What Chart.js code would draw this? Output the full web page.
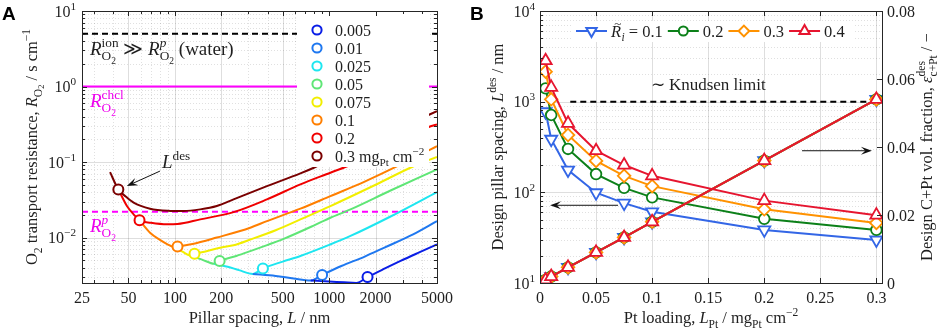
<!DOCTYPE html>
<html>
<head>
<meta charset="utf-8">
<script src="https://cdn.jsdelivr.net/npm/chart.js@4.4.0/dist/chart.umd.min.js"></script>
<style>
body { margin: 0; background: #fff; }
#wrap { position: relative; width: 941px; height: 329px; }
canvas { position: absolute; top: 0; }
#chartA { left: 0; }
#chartB { left: 470px; }
</style>
</head>
<body>
<div id="wrap">
  <canvas id="chartA" width="470" height="329"></canvas>
  <canvas id="chartB" width="471" height="329"></canvas>
</div>
<script>
// ---------- panel A: O2 resistance vs pillar spacing ----------
const loadings = ['0.005', '0.01', '0.025', '0.05', '0.075', '0.1', '0.2', '0.3'];
const curveColors = ['#0a1ee6', '#1f78f0', '#1ee6f0', '#5fe676', '#f2ee00', '#ff7f00', '#f00000', '#7a0000'];

const L_005 = [760, 1000, 1250, 1500, 1773, 2300, 2903, 3800, 5000];
const R_005 = [0.0027, 0.00262, 0.00255, 0.0025, 0.0030, 0.0039, 0.0049, 0.0063, 0.0081];
const L_01 = [320, 450, 589, 760, 900, 1200, 1700, 2262, 3500, 5000];
const R_01 = [0.0033, 0.0031, 0.00286, 0.0027, 0.0032, 0.0042, 0.0056, 0.0073, 0.0110, 0.0165];
const L_025 = [180, 220, 260, 320, 372, 500, 651, 1000, 1375, 2500, 5000];
const R_025 = [0.0045, 0.0041, 0.0037, 0.0033, 0.0039, 0.0048, 0.0057, 0.0080, 0.0105, 0.019, 0.040];
const L_05 = [125, 150, 180, 195, 250, 308, 400, 507, 800, 1019, 1375, 2500, 5000];
const R_05 = [0.0058, 0.0051, 0.0045, 0.0049, 0.0057, 0.0066, 0.0080, 0.0096, 0.0145, 0.0183, 0.0236, 0.042, 0.080];
const L_075 = [100, 112, 125, 134, 160, 200, 240, 308, 450, 651, 1019, 2000, 3525, 5000];
const R_075 = [0.0074, 0.0065, 0.0058, 0.0061, 0.0066, 0.0074, 0.0079, 0.0094, 0.0125, 0.0174, 0.0261, 0.050, 0.088, 0.117];
const L_1 = [59, 69, 80, 89, 100, 104, 130, 187, 308, 395, 651, 1019, 1700, 2763, 4550, 5000];
const R_1 = [0.0169, 0.0116, 0.0093, 0.0082, 0.0074, 0.0076, 0.0082, 0.0100, 0.0135, 0.0165, 0.0241, 0.0354, 0.055, 0.088, 0.147, 0.162];
const L_2 = [43, 49, 55, 59, 70, 89, 104, 146, 240, 395, 651, 1019, 1309, 2500, 4550, 5000];
const R_2 = [0.0434, 0.026, 0.0195, 0.0169, 0.0157, 0.0150, 0.0151, 0.0174, 0.0217, 0.032, 0.0506, 0.0722, 0.088, 0.165, 0.298, 0.315];
const L_3 = [38, 43, 48, 54, 69, 90, 114, 146, 187, 240, 395, 651, 795, 1500, 2500, 3500, 5000];
const R_3 = [0.0735, 0.0434, 0.035, 0.029, 0.0241, 0.0226, 0.0224, 0.0236, 0.0262, 0.0320, 0.048, 0.0707, 0.084, 0.159, 0.251, 0.341, 0.47];

// design points (circles), same order as loadings
const desL = [1773, 900, 372, 195, 134, 104, 59, 43];
const desR = [0.0030, 0.0032, 0.0039, 0.0049, 0.0061, 0.0076, 0.0169, 0.0434];

const R_ion = 5;
const R_chcl = 1;
const R_p = 0.022;

const xTicksA = [25, 30, 40, 50, 60, 70, 80, 90, 100, 200, 300, 400, 500, 600, 700, 800, 900, 1000, 2000, 3000, 4000, 5000];
const xLabelsA = [25, 50, 100, 200, 500, 1000, 2000, 5000];
const yTicksA = [0.003, 0.004, 0.005, 0.006, 0.007, 0.008, 0.009, 0.01, 0.02, 0.03, 0.04, 0.05, 0.06, 0.07, 0.08, 0.09,
                 0.1, 0.2, 0.3, 0.4, 0.5, 0.6, 0.7, 0.8, 0.9, 1, 2, 3, 4, 5, 6, 7, 8, 9, 10];
const yLabelsA = [0.01, 0.1, 1, 10];
const yExpA = ['−2', '−1', '0', '1'];

// ---------- panel B: design pillar spacing and volume fraction ----------
const ptLoading = [0.005, 0.01, 0.025, 0.05, 0.075, 0.1, 0.2, 0.3];
const Ldes_01 = [774, 385, 176, 99, 76, 61, 38.5, 29.8];
const Ldes_02 = [1403, 713, 301, 159, 112, 88, 51, 38.5];
const Ldes_03 = [2144, 1062, 429, 222, 152, 117, 65, 46];
const Ldes_04 = [2831, 1439, 577, 288, 200, 152, 81, 56];
const epsDes = [0.0009, 0.0019, 0.0046, 0.0090, 0.0134, 0.0180, 0.0360, 0.0540];
const knudsenX = [0.027, 0.3];
const knudsenL = 1000;

const xTicksB = [0, 0.05, 0.1, 0.15, 0.2, 0.25, 0.3];
const xLabelsB = ['0', '0.05', '0.1', '0.15', '0.2', '0.25', '0.3'];
const yTicksB = [10, 20, 30, 40, 50, 60, 70, 80, 90, 100, 200, 300, 400, 500, 600, 700, 800, 900,
                 1000, 2000, 3000, 4000, 5000, 6000, 7000, 8000, 9000, 10000];
const yLabelsB = [10, 100, 1000, 10000];
const yExpB = ['1', '2', '3', '4'];
const y2TicksB = [0, 0.02, 0.04, 0.06, 0.08];
const y2LabelsB = ['0', '0.02', '0.04', '0.06', '0.08'];

const SERIF = '"Liberation Serif", "Times New Roman", serif';
const INK = '#1f1f1f';

// rich text: tokens [text, kind]; mark/back/end stack sub under sup
const ST = {
  n: [1, 0, ''], i: [1, 0, 'italic '],
  p: [0.7, -0.42, ''], pi: [0.7, -0.42, 'italic '],
  b: [0.7, 0.28, ''], bi: [0.7, 0.28, 'italic '],
  bb: [0.5, 0.45, ''], tl: [0.8, -0.52, '']
};
function rich(ctx, toks, x, y, size, align, color) {
  let cx = 0, gs = 0, gm = 0;
  const items = [];
  for (const [t, k] of toks) {
    if (k === 'mark') { gs = cx; gm = cx; continue; }
    if (k === 'back') { gm = Math.max(gm, cx); cx = gs; continue; }
    if (k === 'end') { cx = Math.max(gm, cx); continue; }
    const s = ST[k];
    const font = s[2] + (size * s[0]).toFixed(1) + 'px ' + SERIF;
    ctx.font = font;
    const w = ctx.measureText(t).width;
    items.push({ t, font, x: cx, dy: s[1] * size });
    cx += w;
  }
  const off = align === 'center' ? -cx / 2 : align === 'right' ? -cx : 0;
  ctx.fillStyle = color || INK;
  ctx.textAlign = 'left';
  ctx.textBaseline = 'alphabetic';
  for (const it of items) {
    ctx.font = it.font;
    ctx.fillText(it.t, x + off + it.x, y + it.dy);
  }
  return cx;
}
function richV(ctx, toks, x, y, size, color) {
  ctx.save();
  ctx.translate(x, y);
  ctx.rotate(-Math.PI / 2);
  rich(ctx, toks, 0, 0, size, 'center', color);
  ctx.restore();
}

function gridV(ctx, a, px, major) {
  ctx.strokeStyle = major ? 'rgba(0,0,0,0.13)' : 'rgba(0,0,0,0.12)';
  ctx.setLineDash(major ? [] : [1, 2]);
  ctx.lineWidth = 1;
  const p = Math.round(px) + 0.5;
  ctx.beginPath(); ctx.moveTo(p, a.top); ctx.lineTo(p, a.bottom); ctx.stroke();
  ctx.setLineDash([]);
}
function gridH(ctx, a, py, major) {
  ctx.strokeStyle = major ? 'rgba(0,0,0,0.13)' : 'rgba(0,0,0,0.12)';
  ctx.setLineDash(major ? [] : [1, 2]);
  ctx.lineWidth = 1;
  const p = Math.round(py) + 0.5;
  ctx.beginPath(); ctx.moveTo(a.left, p); ctx.lineTo(a.right, p); ctx.stroke();
  ctx.setLineDash([]);
}
function box(ctx, a) {
  ctx.strokeStyle = '#262626';
  ctx.lineWidth = 1;
  ctx.strokeRect(Math.round(a.left) + 0.5, Math.round(a.top) + 0.5, Math.round(a.right - a.left), Math.round(a.bottom - a.top));
}
function tickX(ctx, a, px, len) {
  ctx.strokeStyle = '#262626'; ctx.lineWidth = 1;
  const p = Math.round(px) + 0.5;
  ctx.beginPath();
  ctx.moveTo(p, a.bottom); ctx.lineTo(p, a.bottom - len);
  ctx.moveTo(p, a.top); ctx.lineTo(p, a.top + len);
  ctx.stroke();
}
function tickY(ctx, a, py, len, left, right) {
  ctx.strokeStyle = '#262626'; ctx.lineWidth = 1;
  const p = Math.round(py) + 0.5;
  ctx.beginPath();
  if (left) { ctx.moveTo(a.left, p); ctx.lineTo(a.left + len, p); }
  if (right) { ctx.moveTo(a.right, p); ctx.lineTo(a.right - len, p); }
  ctx.stroke();
}
function arrow(ctx, x1, y1, x2, y2) {
  const a = Math.atan2(y2 - y1, x2 - x1), hl = 11, hw = 4;
  const c = Math.cos(a), s = Math.sin(a);
  ctx.strokeStyle = '#111'; ctx.fillStyle = '#111'; ctx.lineWidth = 1;
  ctx.beginPath(); ctx.moveTo(x1, y1); ctx.lineTo(x2 - hl * 0.6 * c, y2 - hl * 0.6 * s); ctx.stroke();
  ctx.beginPath();
  ctx.moveTo(x2, y2);
  ctx.lineTo(x2 - hl * c + hw * s, y2 - hl * s - hw * c);
  ctx.lineTo(x2 - hl * 0.6 * c, y2 - hl * 0.6 * s);
  ctx.lineTo(x2 - hl * c - hw * s, y2 - hl * s + hw * c);
  ctx.closePath(); ctx.fill();
}
function marker(ctx, kind, x, y, r, color) {
  ctx.beginPath();
  if (kind === 'circle') ctx.arc(x, y, r, 0, 2 * Math.PI);
  else if (kind === 'tri' || kind === 'triDown') {
    const s = kind === 'tri' ? -1 : 1;
    ctx.moveTo(x, y + s * r);
    ctx.lineTo(x + r * 0.866, y - s * r * 0.5);
    ctx.lineTo(x - r * 0.866, y - s * r * 0.5);
    ctx.closePath();
  } else {
    ctx.moveTo(x, y - r); ctx.lineTo(x + r, y); ctx.lineTo(x, y + r); ctx.lineTo(x - r, y); ctx.closePath();
  }
  ctx.fillStyle = '#fff'; ctx.fill();
  ctx.strokeStyle = color; ctx.lineWidth = 2; ctx.stroke();
}
function pts(xs, ys) { return xs.map((v, i) => ({ x: v, y: ys[i] })); }

// ---------- chart A ----------
const curvesA = [[L_005, R_005], [L_01, R_01], [L_025, R_025], [L_05, R_05], [L_075, R_075], [L_1, R_1], [L_2, R_2], [L_3, R_3]];
const dsA = [];
dsA.push({
  data: pts(desL, desR), showLine: false, order: 0,
  pointRadius: 5, pointHoverRadius: 5, pointBorderWidth: 2,
  pointBackgroundColor: '#fff', pointBorderColor: curveColors
});
curvesA.forEach((c, i) => dsA.push({
  data: pts(c[0], c[1]), showLine: true, order: 1 + i,
  borderColor: curveColors[i], borderWidth: 2, pointRadius: 0, cubicInterpolationMode: 'monotone'
}));
dsA.push({ data: pts([25, 5000], [R_ion, R_ion]), showLine: true, order: 20, borderColor: '#000', borderWidth: 2, borderDash: [6, 4], pointRadius: 0 });
dsA.push({ data: pts([25, 5000], [R_chcl, R_chcl]), showLine: true, order: 20, borderColor: '#ff00ff', borderWidth: 2, pointRadius: 0 });
dsA.push({ data: pts([25, 5000], [R_p, R_p]), showLine: true, order: 20, borderColor: '#ff00ff', borderWidth: 2, borderDash: [6, 4], pointRadius: 0 });

const panelA = {
  id: 'panelA',
  beforeDatasetsDraw(chart) {
    const { ctx, chartArea: a, scales: { x, y } } = chart;
    ctx.save();
    xTicksA.forEach(v => gridV(ctx, a, x.getPixelForValue(v), xLabelsA.includes(v)));
    yTicksA.forEach(v => gridH(ctx, a, y.getPixelForValue(v), yLabelsA.includes(v)));
    ctx.restore();
  },
  afterDatasetsDraw(chart) {
    const { ctx, chartArea: a, scales: { x, y } } = chart;
    ctx.save();
    // legend with white background
    ctx.fillStyle = '#fff';
    ctx.fillRect(297, 14, 132, 153);
    loadings.forEach((lab, i) => {
      const cy = 30 + i * 18;
      ctx.beginPath(); ctx.arc(317, cy, 4.6, 0, 2 * Math.PI);
      ctx.fillStyle = '#fff'; ctx.fill();
      ctx.strokeStyle = curveColors[i]; ctx.lineWidth = 2; ctx.stroke();
      const toks = i === loadings.length - 1
        ? [[lab + ' mg', 'n'], ['Pt', 'b'], [' cm', 'n'], ['−2', 'p']]
        : [[lab, 'n']];
      rich(ctx, toks, 335, cy + 5.5, 16, 'left');
    });
    box(ctx, a);
    xTicksA.forEach(v => tickX(ctx, a, x.getPixelForValue(v), xLabelsA.includes(v) ? 5 : 3));
    yTicksA.forEach(v => tickY(ctx, a, y.getPixelForValue(v), yLabelsA.includes(v) ? 5 : 3, true, true));
    xLabelsA.forEach(v => rich(ctx, [[String(v), 'n']], x.getPixelForValue(v), a.bottom + 19.5, 16, 'center'));
    yLabelsA.forEach((v, i) => rich(ctx, [['10', 'n'], [yExpA[i], 'p']], a.left - 6, y.getPixelForValue(v) + 5.5, 16, 'right'));
    rich(ctx, [['Pillar spacing, ', 'n'], ['L', 'i'], [' / nm', 'n']], (a.left + a.right) / 2, 323, 16.5, 'center');
    richV(ctx, [['O', 'n'], ['2', 'b'], [' transport resistance, ', 'n'], ['R', 'i'], ['O', 'b'], ['2', 'bb'], [' / s cm', 'n'], ['−1', 'p']],
      37, (a.top + a.bottom) / 2, 16.5);
    // annotations
    rich(ctx, [['R', 'i'], ['', 'mark'], ['ion', 'p'], ['', 'back'], ['O', 'b'], ['2', 'bb'], ['', 'end'], [' ≫ ', 'n'],
      ['R', 'i'], ['', 'mark'], ['p', 'pi'], ['', 'back'], ['O', 'b'], ['2', 'bb'], ['', 'end'], [' (water)', 'n']], 90, 55, 19, 'left');
    rich(ctx, [['R', 'i'], ['', 'mark'], ['chcl', 'p'], ['', 'back'], ['O', 'b'], ['2', 'bb'], ['', 'end']], 90, 107, 19, 'left', '#ee00ee');
    rich(ctx, [['R', 'i'], ['', 'mark'], ['p', 'pi'], ['', 'back'], ['O', 'b'], ['2', 'bb'], ['', 'end']], 90, 232, 19, 'left', '#ee00ee');
    rich(ctx, [['L', 'i'], ['des', 'p']], 162, 168, 19, 'left');
    arrow(ctx, x.getPixelForValue(80), y.getPixelForValue(0.0758), x.getPixelForValue(48.8), y.getPixelForValue(0.048));
    ctx.font = 'bold 19px "Liberation Sans", Arial, sans-serif';
    ctx.fillStyle = '#000'; ctx.textAlign = 'left';
    ctx.fillText('A', 2, 20);
    ctx.restore();
  }
};

new Chart(document.getElementById('chartA'), {
  type: 'scatter',
  data: { datasets: dsA },
  options: {
    responsive: false, animation: false, devicePixelRatio: 1,
    layout: { padding: { left: 82, right: 33, top: 11, bottom: 46 } },
    plugins: { legend: { display: false }, tooltip: { enabled: false } },
    scales: {
      x: { type: 'logarithmic', min: 25, max: 5000, display: false },
      y: { type: 'logarithmic', min: 0.0025, max: 10, display: false }
    }
  },
  plugins: [panelA]
});

// ---------- chart B ----------
const seriesB = [
  { lab: '0.1', L: Ldes_01, color: '#3366e6', style: 'triangle', rot: 180, r: 7, mk: 'triDown' },
  { lab: '0.2', L: Ldes_02, color: '#0c8019', style: 'circle', rot: 0, r: 5.3, mk: 'circle' },
  { lab: '0.3', L: Ldes_03, color: '#ff9200', style: 'rectRot', rot: 0, r: 6.3, mk: 'diamond' },
  { lab: '0.4', L: Ldes_04, color: '#e6152f', style: 'triangle', rot: 0, r: 7, mk: 'tri' }
];
const dsB = [];
seriesB.forEach((s, i) => {
  const common = {
    showLine: true, borderColor: s.color, borderWidth: 2, order: 3 - i,
    pointStyle: s.style, pointRotation: s.rot, pointRadius: s.r, pointHoverRadius: s.r,
    pointBorderColor: s.color, pointBackgroundColor: '#fff', pointBorderWidth: 1.8
  };
  dsB.push(Object.assign({ data: pts(ptLoading, s.L), yAxisID: 'y' }, common));
  dsB.push(Object.assign({ data: pts(ptLoading, epsDes), yAxisID: 'y2' }, common));
});
dsB.push({
  data: pts(knudsenX, [knudsenL, knudsenL]), yAxisID: 'y', showLine: true, order: 10,
  borderColor: '#000', borderWidth: 2, borderDash: [6, 4], pointRadius: 0
});

const panelB = {
  id: 'panelB',
  beforeDatasetsDraw(chart) {
    const { ctx, chartArea: a, scales: { x, y } } = chart;
    ctx.save();
    xTicksB.forEach(v => gridV(ctx, a, x.getPixelForValue(v), true));
    yTicksB.forEach(v => gridH(ctx, a, y.getPixelForValue(v), yLabelsB.includes(v)));
    ctx.restore();
  },
  afterDatasetsDraw(chart) {
    const { ctx, chartArea: a, scales: { x, y, y2 } } = chart;
    ctx.save();
    // legend row
    ctx.fillStyle = '#fff';
    ctx.fillRect(103, 21, 280, 21);
    let lx = 106;
    const ly = 31;
    seriesB.forEach((s, i) => {
      ctx.strokeStyle = s.color; ctx.lineWidth = 2;
      ctx.beginPath(); ctx.moveTo(lx, ly); ctx.lineTo(lx + 31, ly); ctx.stroke();
      marker(ctx, s.mk, lx + 15.5, ly, s.r * 0.85, s.color);
      lx += 35;
      const toks = i === 0
        ? [['', 'mark'], ['R', 'i'], ['', 'back'], [' ~', 'tl'], ['', 'end'], ['i', 'bi'], [' = 0.1', 'n']]
        : [[s.lab, 'n']];
      lx += rich(ctx, toks, lx, ly + 5.5, 16.5, 'left') + 5;
    });
    // knudsen label and arrows
    rich(ctx, [['∼ Knudsen limit', 'n']], x.getPixelForValue(0.15), y.getPixelForValue(knudsenL) - 12, 17, 'center');
    arrow(ctx, x.getPixelForValue(0.0696), y.getPixelForValue(72), x.getPixelForValue(0.009), y.getPixelForValue(72));
    arrow(ctx, x.getPixelForValue(0.2337), y2.getPixelForValue(0.0389), x.getPixelForValue(0.296), y2.getPixelForValue(0.0389));
    box(ctx, a);
    xTicksB.forEach(v => tickX(ctx, a, x.getPixelForValue(v), 5));
    yTicksB.forEach(v => tickY(ctx, a, y.getPixelForValue(v), yLabelsB.includes(v) ? 5 : 3, true, false));
    y2TicksB.forEach(v => tickY(ctx, a, y2.getPixelForValue(v), 5, false, true));
    xLabelsB.forEach((t, i) => rich(ctx, [[t, 'n']], x.getPixelForValue(xTicksB[i]), a.bottom + 19.5, 16, 'center'));
    yLabelsB.forEach((v, i) => rich(ctx, [['10', 'n'], [yExpB[i], 'p']], a.left - 5, y.getPixelForValue(v) + 5.5, 16, 'right'));
    y2LabelsB.forEach((t, i) => rich(ctx, [[t, 'n']], a.right + 5, y2.getPixelForValue(y2TicksB[i]) + 5.5, 16, 'left'));
    rich(ctx, [['Pt loading, ', 'n'], ['L', 'i'], ['Pt', 'b'], [' / mg', 'n'], ['Pt', 'b'], [' cm', 'n'], ['−2', 'p']],
      (a.left + a.right) / 2, 323, 16.5, 'center');
    richV(ctx, [['Design pillar spacing, ', 'n'], ['L', 'i'], ['des', 'p'], [' / nm', 'n']], 33, (a.top + a.bottom) / 2, 16.5);
    richV(ctx, [['Design C+Pt vol. fraction, ', 'n'], ['ε', 'i'], ['', 'mark'], ['des', 'p'], ['', 'back'], ['c+Pt', 'b'], ['', 'end'], [' / −', 'n']],
      462, (a.top + a.bottom) / 2, 16.5);
    ctx.font = 'bold 19px "Liberation Sans", Arial, sans-serif';
    ctx.fillStyle = '#000'; ctx.textAlign = 'left';
    ctx.fillText('B', 0, 20);
    ctx.restore();
  }
};

new Chart(document.getElementById('chartB'), {
  type: 'scatter',
  data: { datasets: dsB },
  options: {
    responsive: false, animation: false, devicePixelRatio: 1,
    layout: { padding: { left: 70, right: 59, top: 11, bottom: 46 } },
    plugins: { legend: { display: false }, tooltip: { enabled: false } },
    scales: {
      x: { type: 'linear', min: 0, max: 0.305, display: false },
      y: { type: 'logarithmic', position: 'left', min: 10, max: 10000, display: false },
      y2: { type: 'linear', position: 'right', min: 0, max: 0.08, display: false }
    }
  },
  plugins: [panelB]
});
</script>
</body>
</html>
